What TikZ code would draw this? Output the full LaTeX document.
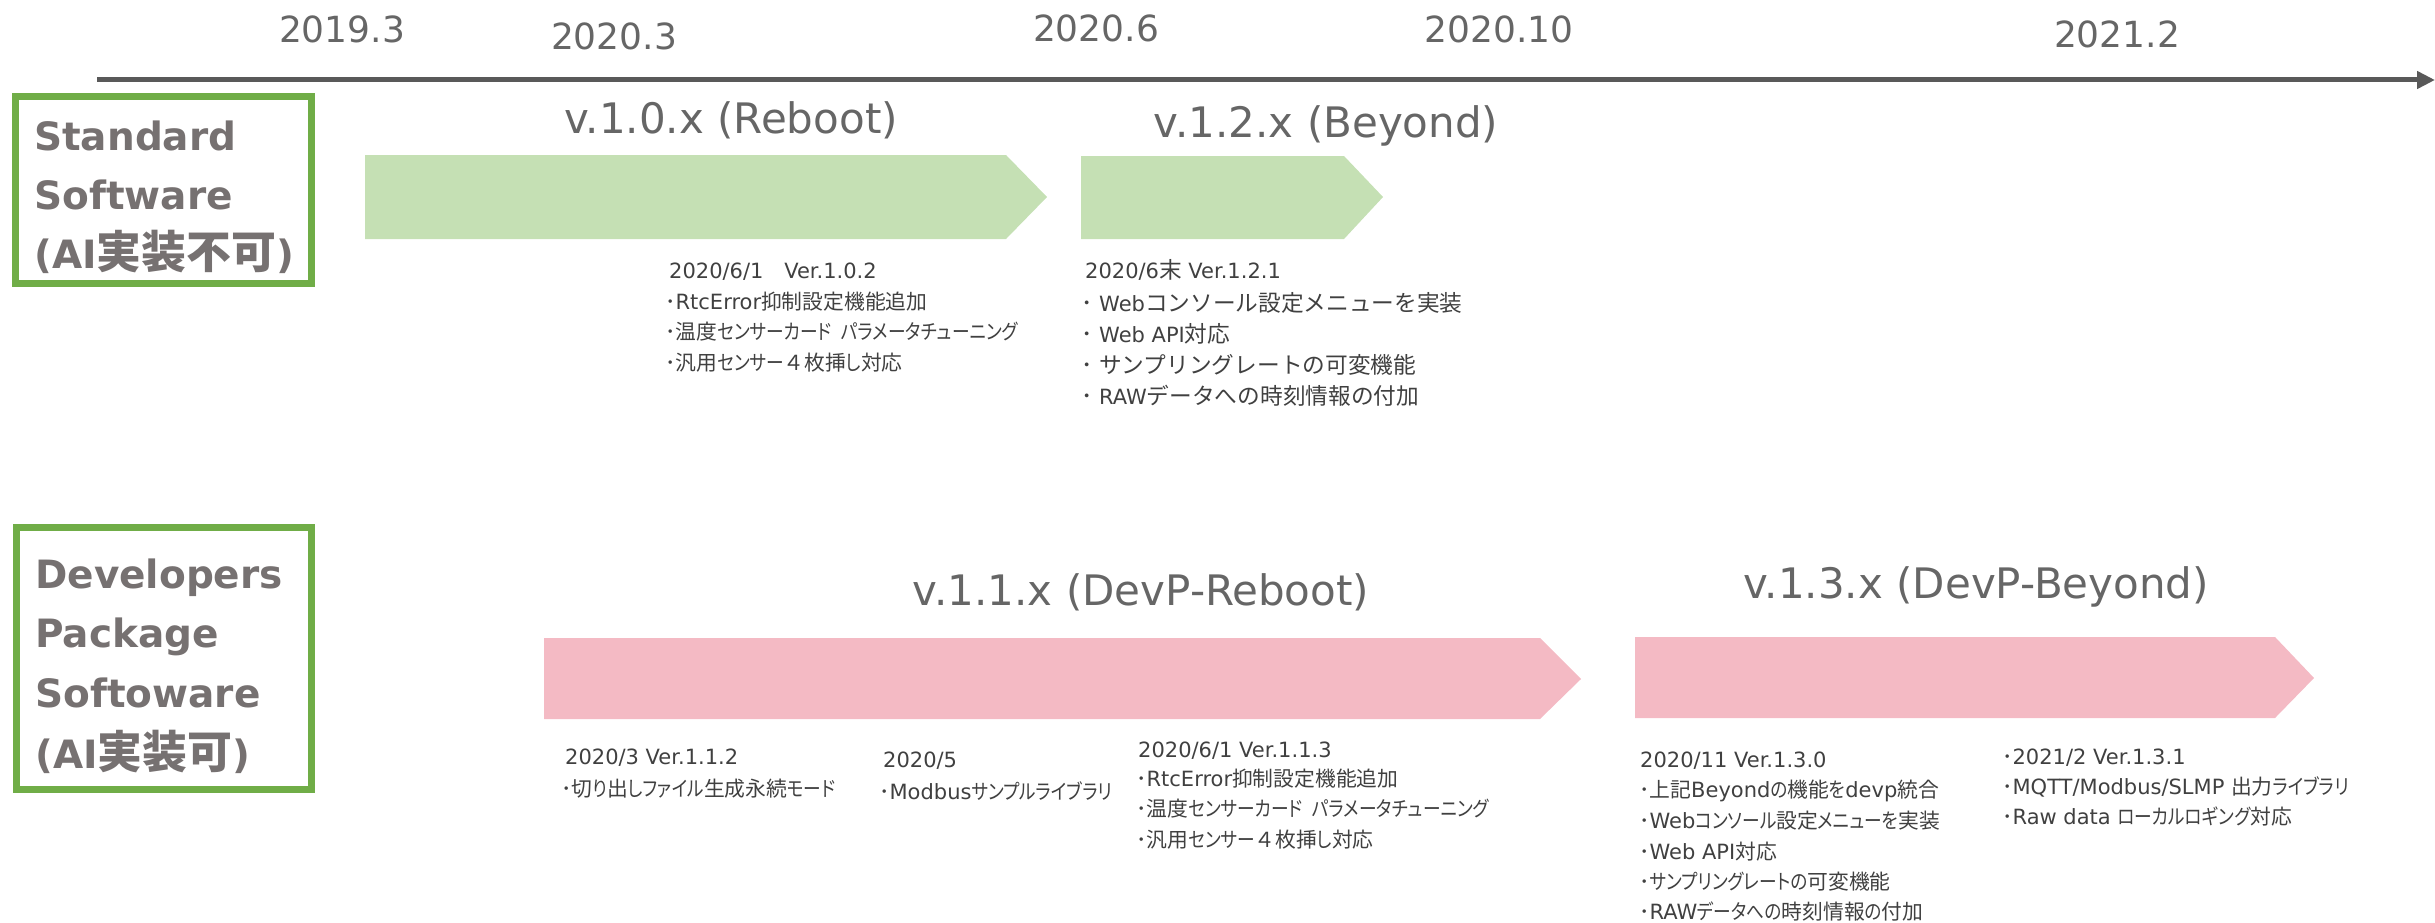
\documentclass[tikz,border=0pt]{standalone}
\usepackage{fontspec}
\setmainfont{DejaVu Sans}
\newfontfamily\latinfont{DejaVu Sans}
\newfontfamily\jpA{Noto Sans CJK JP}[Scale=0.99]
\newfontfamily\knUI{Noto Sans CJK JP}[Scale=0.99, RawFeature={+palt}, FakeStretch=0.85]
\newfontfamily\jpW{Noto Sans CJK JP}[Scale=1.08]
\newfontfamily\jpB{Noto Sans CJK JP}[Scale=1.15]
\usetikzlibrary{arrows.meta}
\def\jpsel{\jpA}
\def\knsel{\knUI}
\newcommand\jpbold{\def\jpsel{\jpB}\def\knsel{\jpB}}
\newcommand\widekana{\def\jpsel{\jpW}\def\knsel{\jpW}}
\XeTeXinterchartokenstate=1
\newXeTeXintercharclass\JPclass
\newXeTeXintercharclass\KNclass
\newcount\jpcc
\jpcc="3000 \loop\XeTeXcharclass\jpcc=\JPclass\advance\jpcc by 1 \ifnum\jpcc<"3040 \repeat
\jpcc="3040 \loop\XeTeXcharclass\jpcc=\KNclass\advance\jpcc by 1 \ifnum\jpcc<"3100 \repeat
\jpcc="4E00 \loop\XeTeXcharclass\jpcc=\JPclass\advance\jpcc by 1 \ifnum\jpcc<"A000 \repeat
\jpcc="FF00 \loop\XeTeXcharclass\jpcc=\JPclass\advance\jpcc by 1 \ifnum\jpcc<"FFF0 \repeat
\XeTeXinterchartoks 0 \JPclass = {\jpsel}
\XeTeXinterchartoks 4095 \JPclass = {\jpsel}
\XeTeXinterchartoks \KNclass \JPclass = {\jpsel}
\XeTeXinterchartoks 0 \KNclass = {\knsel}
\XeTeXinterchartoks 4095 \KNclass = {\knsel}
\XeTeXinterchartoks \JPclass \KNclass = {\knsel}
\XeTeXinterchartoks \JPclass 0 = {\latinfont}
\XeTeXinterchartoks \JPclass 4095 = {\latinfont}
\XeTeXinterchartoks \KNclass 0 = {\latinfont}
\XeTeXinterchartoks \KNclass 4095 = {\latinfont}
\definecolor{axisgray}{HTML}{595959}
\definecolor{titlegray}{HTML}{666666}
\definecolor{txtdark}{HTML}{404040}
\definecolor{lblgray}{HTML}{767171}
\definecolor{boxgreen}{HTML}{70AD47}
\definecolor{lightgreen}{HTML}{C5E0B4}
\definecolor{lightpink}{HTML}{F4BAC4}
\begin{document}
\begin{tikzpicture}[x=1pt,y=-1pt,
 small/.style={font=\latinfont\fontsize{21}{25}\selectfont, text=txtdark, anchor=base west, inner sep=0pt},
 smallw/.style={small, font=\widekana\latinfont\fontsize{21}{25}\selectfont},
 year/.style={font=\latinfont\fontsize{36}{40}\selectfont, text=titlegray, anchor=base, inner sep=0pt},
 title/.style={font=\latinfont\fontsize{42}{48}\selectfont, text=titlegray, anchor=base, inner sep=0pt},
 lbl/.style={font=\jpbold\latinfont\bfseries\fontsize{39}{45}\selectfont, text=lblgray, anchor=base west, inner sep=0pt},
 lblbox/.style={draw=boxgreen, line width=7pt},
 grnarrow/.style={fill=lightgreen},
 pnkarrow/.style={fill=lightpink}]
\path[use as bounding box] (0,0) rectangle (2435,923);
% timeline
\draw[axisgray, line width=5pt, -{Triangle[length=18pt,width=17pt]}] (97,80) -- (2435,80);
\node[year] (y1) at (342,43) {2019.3};
\node[year] (y2) at (614,50) {2020.3};
\node[year] (y3) at (1096,42) {2020.6};
\node[year] (y4) at (1499,43) {2020.10};
\node[year] (y5) at (2117,48) {2021.2};
% label boxes
\draw[lblbox] (15.5,96.5) rectangle (311.5,283.5);
\draw[lblbox] (16,527.5) rectangle (311.5,789.5);
\node[lbl] (s1) at (34,150) {Standard};
\node[lbl] (s2) at (34,209) {Software};
\node[lbl] (s3) at (34,268) {(AI実装不可)};
\node[lbl] (d1) at (35,588) {Developers};
\node[lbl] (d2) at (35,647) {Package};
\node[lbl] (d3) at (35,707) {Softoware};
\node[lbl] (d4) at (35,768) {(AI実装可)};
% release arrows
\fill[grnarrow] (365,155) -- (1006,155) -- (1047,197) -- (1006,239) -- (365,239) -- cycle;
\fill[grnarrow] (1081,156) -- (1344,156) -- (1383,197) -- (1344,239) -- (1081,239) -- cycle;
\fill[pnkarrow] (544,638) -- (1540,638) -- (1581,679) -- (1540,719) -- (544,719) -- cycle;
\fill[pnkarrow] (1635,637) -- (2275,637) -- (2314,678) -- (2275,718) -- (1635,718) -- cycle;
\node[title] (t1) at (731,133) {v.1.0.x (Reboot)};
\node[title] (t2) at (1326,138) {v.1.2.x (Beyond)};
\node[title] (t3) at (1141,605) {v.1.1.x (DevP-Reboot)};
\node[title] (t4) at (1976,598) {v.1.3.x (DevP-Beyond)};
% upper notes
\node[small] (a0) at (669,278) {2020/6/1　Ver.1.0.2};
\node[small] (a1) at (665,309) {･RtcError抑制設定機能追加};
\node[small] (a2) at (665,339) {･温度センサーカード\hspace{10pt}パラメータチューニング};
\node[small] (a3) at (665,370) {･汎用センサー４枚挿し対応};
\node[smallw] (b0) at (1085,278) {2020/6末 Ver.1.2.1};
\node[smallw] (b1) at (1081,311) {･ Webコンソール設定メニューを実装};
\node[smallw] (b2) at (1081,342) {･ Web API対応};
\node[smallw] (b3) at (1081,373) {･ サンプリングレートの可変機能};
\node[smallw] (b4) at (1081,404) {･ RAWデータへの時刻情報の付加};
% lower notes
\node[small] (c0) at (565,764) {2020/3 Ver.1.1.2};
\node[small] (c1) at (561,796) {･切り出しファイル生成永続モード};
\node[small] (e0) at (883,767) {2020/5};
\node[small] (e1) at (879,799) {･Modbusサンプルライブラリ};
\node[small] (f0) at (1138,757) {2020/6/1 Ver.1.1.3};
\node[small] (f1) at (1136,786) {･RtcError抑制設定機能追加};
\node[small] (f2) at (1136,816) {･温度センサーカード\hspace{10pt}パラメータチューニング};
\node[small] (f3) at (1136,847) {･汎用センサー４枚挿し対応};
\node[small] (g0) at (1640,767) {2020/11 Ver.1.3.0};
\node[small] (g1) at (1639,797) {･上記Beyondの機能をdevp統合};
\node[small] (g2) at (1639,828) {･Webコンソール設定メニューを実装};
\node[small] (g3) at (1639,859) {･Web API対応};
\node[small] (g4) at (1639,889) {･サンプリングレートの可変機能};
\node[small] (g5) at (1639,919) {･RAWデータへの時刻情報の付加};
\node[small] (h0) at (2002,764) {･2021/2 Ver.1.3.1};
\node[small] (h1) at (2002,794) {･MQTT/Modbus/SLMP 出力ライブラリ};
\node[small] (h2) at (2002,824) {･Raw data ローカルロギング対応};
\end{tikzpicture}
\end{document}
